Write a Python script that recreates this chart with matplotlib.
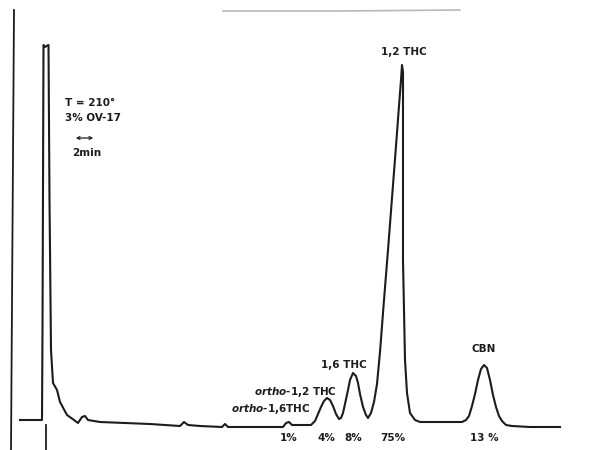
import numpy as np
import matplotlib.pyplot as plt

plt.rcParams["mathtext.fontset"] = "custom"
plt.rcParams["mathtext.it"] = "DejaVu Sans:italic:bold"

# chart-paper trace (x: chart position, y: response)
trace_x = [20, 42, 42.5, 43.5, 45, 46.5, 48.5, 49.5, 51, 53, 57, 60, 67, 74, 78,
           82, 85, 88, 100, 150, 180, 184, 188, 200, 222, 225, 228, 250, 283,
           286, 289, 292, 300, 307, 311, 315, 318, 321, 324, 327, 330, 333, 336,
           339, 341, 343, 345, 348, 350, 353, 356, 358, 360, 363, 366, 368, 371,
           374, 377, 380, 384, 388, 392, 396, 399, 401, 402, 403, 403, 405,
           407, 410, 415, 420, 440, 462, 466, 469, 472, 475, 478, 481, 484, 487,
           490, 493, 496, 499, 502, 506, 512, 530, 560]
trace_y = [420, 420, 330, 45, 47, 46, 45, 200, 350, 383, 390, 402, 415, 420, 423,
           417, 416, 420, 422, 424, 426, 422, 425, 426, 427, 424, 427, 427, 427,
           423, 422, 425, 425, 425, 425, 421, 414, 407, 401, 398, 400, 406, 414,
           419, 418, 413, 404, 390, 380, 373, 376, 383, 394, 407, 415, 418, 413,
           402, 384, 352, 300, 250, 198, 146, 106, 80, 65, 72, 260, 360, 393,
           413, 420, 422, 422, 422, 420, 416, 406, 394, 380, 369, 365, 368, 380,
           395, 407, 416, 421, 425, 426, 427, 427]
trace_y = [450 - v for v in trace_y]

peak_labels = ["1,2 THC", "1,6 THC", "$\\it{ortho}$-1,2 THC",
               "$\\it{ortho}$-1,6THC", "CBN"]
percent_labels = ["1%", "4%", "8%", "75%", "13 %"]
percent_pos = [289, 326, 353, 393, 484]

fig = plt.figure(figsize=(5.97, 4.5), dpi=100)
ax = fig.add_axes([0, 0, 1, 1])
ax.set_xlim(0, 597)
ax.set_ylim(0, 450)
ax.axis("off")

ink = "#1c1c1c"
ax.plot(trace_x, trace_y, color=ink, lw=1.5, solid_joinstyle="round")

# pen axis, injection mark and scan edge
ax.plot([14, 11], [440, 0], color=ink, lw=1.3)
ax.plot([46, 46], [25, 0], color=ink, lw=1.3)
ax.plot([223, 340, 460], [439, 439, 440], color="#9a9a9a", lw=1.2, alpha=0.7)

txt = dict(color=ink, fontsize=7.5, fontweight="bold", family="DejaVu Sans")

ax.text(65, 347, "T = 210°", ha="left", va="center", **txt)
ax.text(65, 332, "3% OV-17", ha="left", va="center", **txt)
ax.annotate("", xy=(96, 312), xytext=(73, 312),
            arrowprops=dict(arrowstyle="<->", color=ink, lw=0.9,
                            mutation_scale=5))
ax.text(72, 297, "2min", ha="left", va="center", **txt)

ax.text(404, 398, peak_labels[0], ha="center", va="center", **txt)
ax.text(344, 85, peak_labels[1], ha="center", va="center", **txt)
ax.text(337, 58, peak_labels[2], ha="right", va="center", **txt)
ax.text(310, 41, peak_labels[3], ha="right", va="center", **txt)
ax.text(484, 101, peak_labels[4], ha="center", va="center", **txt)

for lab, xp in zip(percent_labels, percent_pos):
    ax.text(xp, 12, lab, ha="center", va="center", **txt)

fig.savefig("out.png", dpi=100, facecolor="white")
